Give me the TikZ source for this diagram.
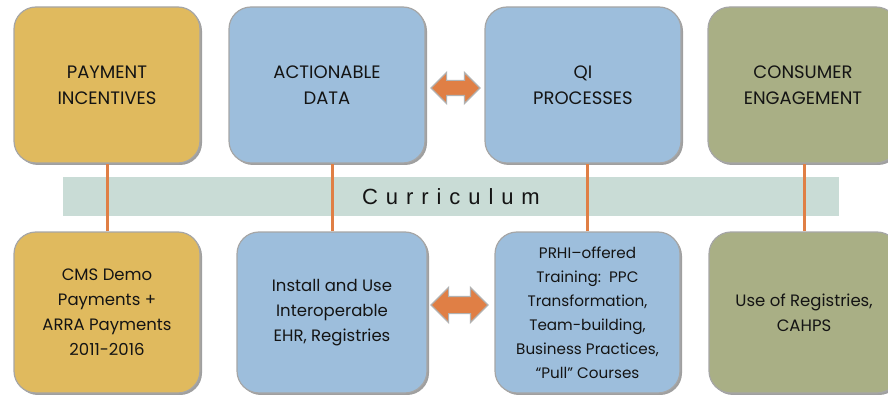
\documentclass[tikz,border=0pt]{standalone}
\usepackage{fontspec}
\setmainfont{Poppins}
\setsansfont{Liberation Sans}
\usetikzlibrary{shapes.arrows,shadows}

\definecolor{gold}{HTML}{E0BA5E}
\definecolor{skyblue}{HTML}{9DBEDC}
\definecolor{sage}{HTML}{A9AF85}
\definecolor{bandgreen}{HTML}{C9DCD6}
\definecolor{linkorange}{HTML}{E07F45}
\definecolor{ink}{HTML}{141414}

\tikzset{
    card/.style={draw=gray!70, line width=1.2pt, rounded corners=22pt, align=center,
        text=ink, inner sep=0pt,
        drop shadow={shadow xshift=2pt, shadow yshift=-2pt, opacity=0.5, fill=black!75}},
    topcard/.style={card, minimum height=156pt, font=\fontsize{18}{26}\selectfont},
    lowcard/.style={card, minimum height=161pt, font=\fontsize{16.5}{25}\selectfont},
    link/.style={draw=linkorange, line width=3pt},
    twoway/.style={double arrow, fill=linkorange, draw=gray!60, line width=1.2pt,
        double arrow head extend=8pt, inner xsep=0pt, inner ysep=7pt, minimum width=0pt},
}

\begin{document}
\begin{tikzpicture}[x=1pt, y=1pt]

    \useasboundingbox (0,0) rectangle (888,394);

    % Top row
    \node[topcard, fill=gold,    minimum width=186pt] (pay)  at (107,309) {PAYMENT\\INCENTIVES};
    \node[topcard, fill=skyblue, minimum width=196pt] (data) at (327,309) {ACTIONABLE\\DATA};
    \node[topcard, fill=skyblue, minimum width=196pt] (qi)   at (583,309) {QI\\PROCESSES};
    \node[topcard, fill=sage,    minimum width=190pt] (cons) at (803,309) {CONSUMER\\ENGAGEMENT};

    % Bottom row
    \node[lowcard, fill=gold,    minimum width=186pt] (cms)  at (107,81.5) {CMS Demo\\Payments +\\ARRA Payments\\2011-2016};
    \node[lowcard, fill=skyblue, minimum width=190pt] (ehr)  at (332,81.5) {Install and Use\\Interoperable\\EHR, Registries};
    \node[lowcard, fill=skyblue, minimum width=185pt, font=\fontsize{15.2}{24}\selectfont]
        (prhi) at (587.5,81.5) {PRHI–offered\\Training:~~PPC\\Transformation,\\Team-building,\\Business Practices,\\“Pull” Courses};
    \node[lowcard, fill=sage,    minimum width=190pt] (reg)  at (804,81.5) {Use of Registries,\\CAHPS};

    % Curriculum band
    \node[fill=bandgreen, minimum width=776pt, minimum height=39pt, inner sep=0pt,
        font=\sffamily\fontsize{22}{22}\selectfont\addfontfeature{LetterSpace=36}, text=ink]
        (curr) at (451,197.5) {Curriculum};

    \foreach \up/\down in {pay/cms, data/ehr, qi/prhi, cons/reg}
        \draw[link] (\down.north) -- (\down.north |- \up.south);

    % Two-way arrows
    \node[twoway, minimum height=49pt] (dq) at (455.5,306) {};
    \node[twoway, minimum height=57pt, inner ysep=8pt, double arrow head extend=9pt] (ep) at (459.5,89) {};

\end{tikzpicture}
\end{document}
